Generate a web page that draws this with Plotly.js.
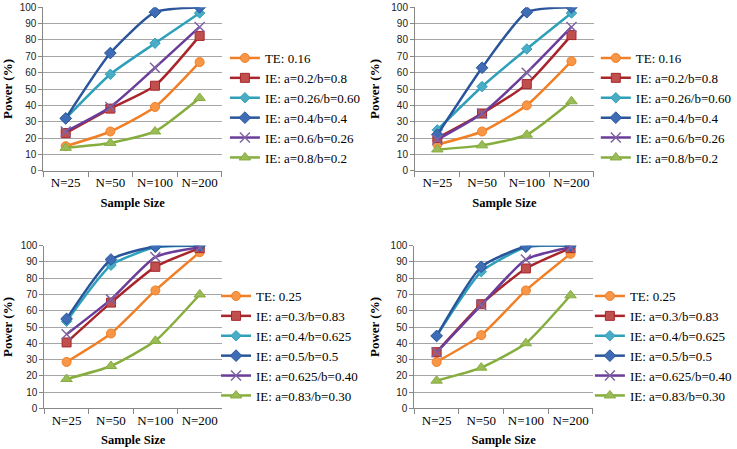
<!DOCTYPE html>
<html>
<head>
<meta charset="utf-8">
<script src="https://cdn.plot.ly/plotly-3.0.1.min.js"></script>
<style>html,body{margin:0;padding:0;background:#fff;}#chart{width:737px;height:449px;}</style>
</head>
<body>
<div id="chart"></div>
<script>
const categories = ['N=25', 'N=50', 'N=100', 'N=200'];

const namesTop = ['TE: 0.16', 'IE: a=0.2/b=0.8', 'IE: a=0.26/b=0.60', 'IE: a=0.4/b=0.4', 'IE: a=0.6/b=0.26', 'IE: a=0.8/b=0.2'];
const namesBottom = ['TE: 0.25', 'IE: a=0.3/b=0.83', 'IE: a=0.4/b=0.625', 'IE: a=0.5/b=0.5', 'IE: a=0.625/b=0.40', 'IE: a=0.83/b=0.30'];

// Top-left panel
const p1_te  = [15, 24, 39, 66.5];
const p1_ie1 = [23, 38, 52, 82.5];
const p1_ie2 = [32, 59, 78, 96.5];
const p1_ie3 = [32, 72, 97, 100];
const p1_ie4 = [24, 39, 63, 88];
const p1_ie5 = [14, 17, 24, 44.5];

// Top-right panel
const p2_te  = [16, 24, 40, 67];
const p2_ie1 = [20, 35, 53, 83];
const p2_ie2 = [25, 51.5, 74.5, 96.5];
const p2_ie3 = [22, 63, 97, 100];
const p2_ie4 = [19, 35, 60, 88];
const p2_ie5 = [13, 15.5, 22, 42.5];

// Bottom-left panel
const p3_te  = [28.5, 46, 72.5, 96];
const p3_ie1 = [40.5, 65, 87, 98.5];
const p3_ie2 = [53.5, 88, 99, 100];
const p3_ie3 = [55, 91.5, 99.5, 100];
const p3_ie4 = [45.5, 67, 93, 99];
const p3_ie5 = [18, 26, 41.5, 70];

// Bottom-right panel
const p4_te  = [28.5, 45, 72.5, 95];
const p4_ie1 = [34.5, 64, 86, 98.5];
const p4_ie2 = [44.5, 84, 99, 100];
const p4_ie3 = [44.5, 87, 99.5, 100];
const p4_ie4 = [34.5, 63.5, 91.5, 99];
const p4_ie5 = [17, 25, 40, 69.5];

const panels = [
  {vals: [p1_te, p1_ie1, p1_ie2, p1_ie3, p1_ie4, p1_ie5], names: namesTop},
  {vals: [p2_te, p2_ie1, p2_ie2, p2_ie3, p2_ie4, p2_ie5], names: namesTop},
  {vals: [p3_te, p3_ie1, p3_ie2, p3_ie3, p3_ie4, p3_ie5], names: namesBottom},
  {vals: [p4_te, p4_ie1, p4_ie2, p4_ie3, p4_ie4, p4_ie5], names: namesBottom}
];

const styles = [
  {line: '#F07F26', fill: '#F79646', symbol: 'circle', size: 9},
  {line: '#A8262B', fill: '#C0504D', symbol: 'square', size: 9},
  {line: '#2EA0BA', fill: '#4BACC6', symbol: 'diamond', size: 8},
  {line: '#2A559A', fill: '#3E6DB5', symbol: 'diamond', size: 9},
  {line: '#6A3D9A', fill: '#8064A2', symbol: 'x-thin', size: 10},
  {line: '#86AE3E', fill: '#9BBB59', symbol: 'triangle-up', size: 10}
];

const W = 737, H = 449;
const geom = [
  {x0: 44, x1: 225, yt: 7.3, yb: 170.7, lx: 228, ly: 43},
  {x0: 420.7, x1: 602, yt: 7.3, yb: 170.7, lx: 604, ly: 43},
  {x0: 45, x1: 225, yt: 245.7, yb: 408.3, lx: 219, ly: 281},
  {x0: 420, x1: 601, yt: 245.7, yb: 408.3, lx: 598, ly: 281}
];

const serif = '"Liberation Serif", serif';
const sans = '"Liberation Sans", sans-serif';

const traces = [];
const layout = {
  width: W, height: H,
  margin: {l: 0, r: 0, t: 0, b: 0},
  paper_bgcolor: '#ffffff',
  plot_bgcolor: '#ffffff',
  showlegend: true,
  font: {family: serif}
};

panels.forEach((p, i) => {
  const k = i + 1;
  const sfx = k === 1 ? '' : String(k);
  const g = geom[i];
  const legName = k === 1 ? 'legend' : 'legend' + k;
  p.vals.forEach((v, j) => {
    const s = styles[j];
    const isX = s.symbol === 'x-thin';
    traces.push({
      type: 'scatter', mode: 'lines+markers',
      x: categories, y: v, name: p.names[j],
      xaxis: 'x' + sfx, yaxis: 'y' + sfx,
      legend: legName,
      line: {color: s.line, width: 2.5, shape: 'spline', smoothing: 0.55},
      marker: {symbol: s.symbol, size: s.size, color: s.fill,
               line: {color: isX ? s.fill : s.line, width: isX ? 1.5 : 1}},
      hoverinfo: 'x+y+name'
    });
  });
  layout['xaxis' + sfx] = {
    domain: [g.x0 / W, g.x1 / W],
    anchor: 'y' + sfx,
    type: 'category',
    range: [-0.5, 3.5],
    tickson: 'boundaries',
    ticks: 'outside', ticklen: 5, tickcolor: '#888888', tickwidth: 1,
    tickangle: 0,
    showline: true, linecolor: '#888888', linewidth: 1,
    showgrid: false, zeroline: false,
    tickfont: {family: serif, size: 13, color: '#000'},
    title: {text: '<b>Sample Size</b>', font: {family: serif, size: 12.5, color: '#000'}, standoff: 8},
    automargin: false,
    fixedrange: true
  };
  layout['yaxis' + sfx] = {
    domain: [1 - g.yb / H, 1 - g.yt / H],
    anchor: 'x' + sfx,
    range: [0, 100],
    dtick: 10,
    ticks: 'outside', ticklen: 4, tickcolor: '#888888',
    showline: true, linecolor: '#888888', linewidth: 1,
    showgrid: true, gridcolor: '#A6A6A6', gridwidth: 1.3,
    zeroline: false,
    tickfont: {family: sans, size: 10, color: '#222'},
    title: {text: '<b>Power (%)</b>', font: {family: serif, size: 13, color: '#000'}, standoff: 8},
    automargin: false,
    fixedrange: true
  };
  layout[legName] = {
    x: g.lx / W, y: 1 - g.ly / H,
    xanchor: 'left', yanchor: 'top',
    bgcolor: 'rgba(0,0,0,0)',
    font: {family: serif, size: 13, color: '#000'},
    tracegroupgap: 0,
    itemclick: false, itemdoubleclick: false
  };
});

Plotly.newPlot('chart', traces, layout, {displayModeBar: false});
</script>
</body>
</html>
